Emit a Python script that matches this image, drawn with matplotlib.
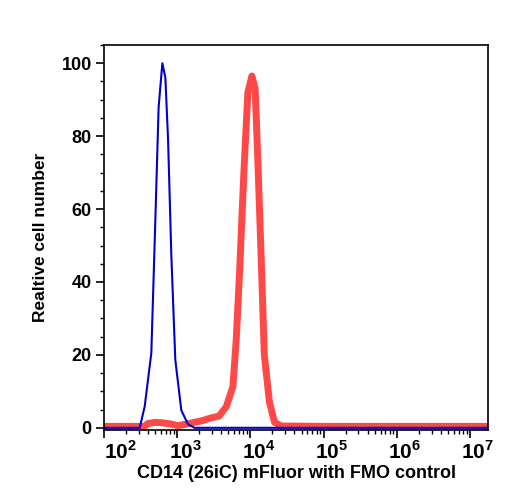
import matplotlib
matplotlib.use("Agg")
import matplotlib.pyplot as plt
import matplotlib.transforms as mtransforms
import numpy as np
from matplotlib.ticker import FixedLocator, LogLocator, MultipleLocator, NullFormatter

plt.rcParams['font.family'] = ['Liberation Sans', 'DejaVu Sans']
plt.rcParams['font.weight'] = 'bold'
plt.rcParams['mathtext.fontset'] = 'custom'
plt.rcParams['mathtext.rm'] = 'Liberation Sans:bold'
plt.rcParams['mathtext.bf'] = 'Liberation Sans:bold'

# FMO control (blue) - log10 fluorescence vs relative count
fmo_log = [2.0, 2.40, 2.486, 2.554, 2.645, 2.691, 2.745, 2.796, 2.837, 2.874,
           2.919, 2.973, 3.055, 3.146, 3.236, 4.0, 5.0, 6.0, 7.25]
fmo_cnt = [0, 0, 0, 5.8, 20.5, 51, 88, 100, 96, 79,
           47, 18.6, 4.8, 1, 0, 0, 0, 0, 0]

# CD14 (26iC) mFluor stained (red)
cd14_log = [2.0, 2.30, 2.55, 2.60, 2.70, 2.78, 2.90, 3.01, 3.12, 3.23, 3.35, 3.46,
            3.57, 3.67, 3.76, 3.805, 3.85, 3.91, 3.965, 4.02, 4.064, 4.10,
            4.146, 4.19, 4.26, 4.33, 4.42, 5.0, 6.0, 7.25]
cd14_cnt = [0.4, 0.4, 0.4, 1.2, 1.5, 1.4, 1.1, 0.6, 1.0, 1.5, 2.0, 2.7,
            3.2, 5.8, 11.3, 24, 42, 70, 92, 96.5, 93, 74,
            47, 20, 7, 1.5, 0.5, 0.4, 0.4, 0.4]

decades = [2, 3, 4, 5, 6, 7]

fig = plt.figure(figsize=(5.08, 5.00), dpi=100)
ax = fig.add_axes([0.205, 0.14, 0.756, 0.77])

ax.plot(10 ** np.array(cd14_log), cd14_cnt, color='#ff3535', lw=5, alpha=0.9,
        solid_joinstyle='round')
ax.plot(10 ** np.array(fmo_log), fmo_cnt, color='#0000cc', lw=1.5)

ax.set_xscale('log')
ax.set_xlim(10 ** 2.0, 10 ** 7.25)
ax.set_ylim(-0.6, 105)

ax.xaxis.set_major_locator(FixedLocator([10.0 ** d for d in decades]))
ax.set_xticklabels(['$10^{%d}$' % d for d in decades])
ax.xaxis.set_minor_locator(LogLocator(base=10, subs=np.arange(2, 10)))
ax.xaxis.set_minor_formatter(NullFormatter())
ax.yaxis.set_major_locator(MultipleLocator(20))
ax.yaxis.set_minor_locator(MultipleLocator(5))

ax.tick_params(which='major', direction='out', length=6, width=1.2, labelsize=13, pad=3)
ax.tick_params(which='minor', direction='out', length=3, width=1)
ax.tick_params(axis='x', labelsize=15, pad=1)
for s in ax.spines.values():
    s.set_linewidth(1.2)

# x tick labels sit a little to the right of their ticks
for i, lbl in enumerate(ax.get_xticklabels()):
    dx = 16 if i == 0 else 8
    lbl.set_transform(lbl.get_transform() + mtransforms.ScaledTranslation(dx / 100, 0, fig.dpi_scale_trans))

ax.set_xlabel('CD14 (26iC) mFluor with FMO control', fontsize=13, fontweight='bold', labelpad=2)
ax.set_ylabel('Realtive cell number', fontsize=12.5, fontweight='bold', labelpad=10)

fig.savefig('out.png', dpi=100)
